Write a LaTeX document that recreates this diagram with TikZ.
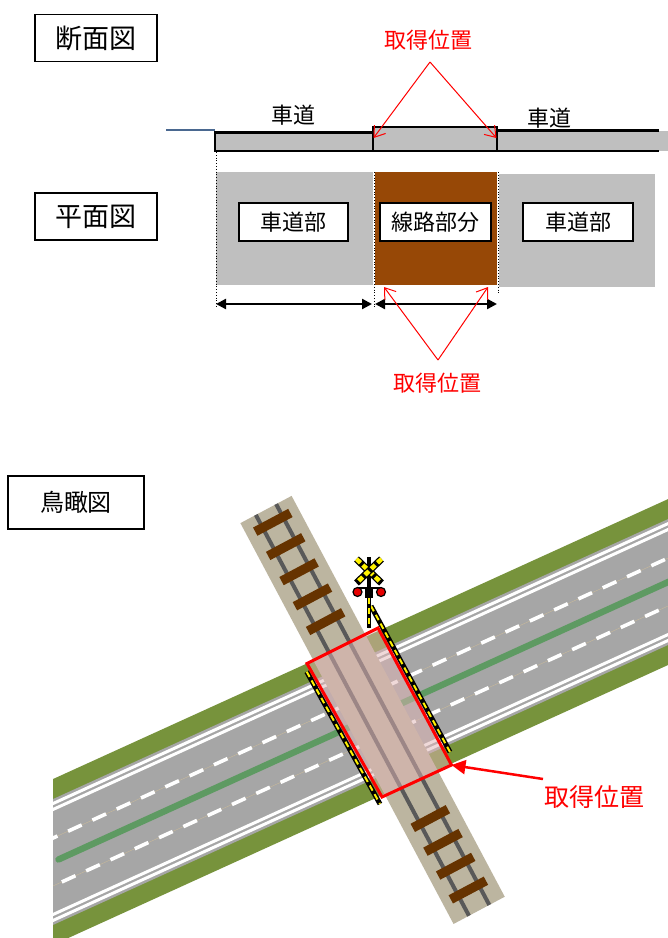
\documentclass[tikz,border=0pt]{standalone}
\usepackage{fontspec}
\newfontfamily\jpfont{Noto Sans CJK JP}
\usetikzlibrary{arrows.meta}

\definecolor{roadgreen}{HTML}{77933C}
\definecolor{asphalt}{HTML}{A6A6A6}
\definecolor{mediangreen}{HTML}{5E9A62}
\definecolor{ballast}{HTML}{BCB5A0}
\definecolor{railgray}{HTML}{595959}
\definecolor{sleeperbrown}{HTML}{663300}
\definecolor{plangray}{HTML}{BFBFBF}
\definecolor{trackbrown}{HTML}{974806}
\definecolor{crosspink}{RGB}{224,180,180}
\definecolor{edgeblue}{HTML}{4A6890}
\definecolor{lanetan}{HTML}{C8B99A}
\definecolor{signalred}{HTML}{E60000}

\tikzset{
  jp/.style={font=\jpfont\fontsize{#1}{#1}\selectfont},
  titlebox/.style={draw=black, line width=1.5pt, fill=white, inner sep=0pt,
    minimum width=122pt, minimum height=47pt, jp=27},
  partbox/.style={draw=black, line width=1.8pt, fill=white, inner sep=0pt,
    minimum width=109pt, minimum height=38pt, jp=22},
  plainlabel/.style={inner sep=0pt, jp=22},
  redlabel/.style={inner sep=0pt, text=red, jp=22},
  pointer/.style={red, line width=1pt, -{Straight Barb[length=10pt,width=14pt]}},
  dimline/.style={line width=2.3pt, {Triangle[length=10pt,width=10pt]}-{Triangle[length=10pt,width=10pt]}},
  guide/.style={black, line width=0.8pt, dotted},
  outline/.style={line width=2.6pt, line cap=rect},
  barrier/.style={draw=black, line width=5pt,
    postaction={draw=yellow, line width=2pt, dash pattern=on 6pt off 4pt}},
  crossarm/.style={draw=black, line width=7pt,
    postaction={draw=yellow, line width=4.5pt, dash pattern=on 5.5pt off 3.2pt}},
}

\begin{document}
\begin{tikzpicture}[x=1pt, y=-1pt]
\useasboundingbox (0,0) rectangle (668,938);
\fill[white] (0,0) rectangle (668,938);

% ===== cross-section =====
\node[titlebox] (secTitle) at (96,38) {断面図};

\fill[plangray] (215,132.5) rectangle (373,151);
\fill[plangray] (373,127) rectangle (497,151);
\fill[plangray] (497,130.5) rectangle (668,151);
\draw[outline] (373,132.5) -- (215,132.5) -- (215,151) -- (373,151);
\draw[outline] (373,127) rectangle (497,151);
\draw[outline] (497,130.5) -- (658,130.5) (497,151) -- (658,151);
\draw[edgeblue, line width=1.2pt] (166,130) -- (215,130);

\node[plainlabel] (secRoadL) at (293,115) {車道};
\node[plainlabel] (secRoadR) at (549,118) {車道};

\node[redlabel] (getTop) at (428,40) {取得位置};
\coordinate (apexTop) at (430,62);
\coordinate (tipTopL) at (373.5,138);
\coordinate (tipTopR) at (496.5,138);
\draw[pointer] (apexTop) -- (tipTopL);
\draw[pointer] (apexTop) -- (tipTopR);

% ===== plan =====
\node[titlebox] (planTitle) at (96,216.5) {平面図};

\fill[plangray] (216,172) rectangle (373,284.5);
\fill[trackbrown] (374.5,172) rectangle (497,284.5);
\fill[plangray] (498.5,174) rectangle (655,287);
\draw[guide] (216,152) -- (216,308);
\draw[guide] (374.5,172) -- (374.5,308);
\draw[guide] (498,172) -- (498,294);

\node[partbox] (roadL) at (293.5,222) {車道部};
\node[partbox, minimum width=111pt] (trackPart) at (435.5,222) {線路部分};
\node[partbox, minimum width=110pt] (roadR) at (578,222) {車道部};

\coordinate (dimA) at (216,304);
\coordinate (dimB) at (372,304);
\coordinate (dimC) at (375,304);
\coordinate (dimD) at (497,304);
\draw[dimline] (dimA) -- (dimB);
\draw[dimline] (dimC) -- (dimD);

\node[redlabel] (getMid) at (437,383) {取得位置};
\coordinate (apexMid) at (438,360);
\coordinate (tipMidL) at (384,287);
\coordinate (tipMidR) at (488,287);
\draw[pointer] (apexMid) -- (tipMidL);
\draw[pointer] (apexMid) -- (tipMidR);

% ===== bird's-eye view =====
\node[titlebox, minimum width=136pt, minimum height=53pt, jp=24] (eyeTitle) at (76,502.5) {鳥瞰図};

% road (frame: a along the road, b across it)
\begin{scope}
  \clip (53,0) rectangle (668,938);
  \begin{scope}[shift={(53,862)}]
  \begin{scope}[x={(0.9102pt,0.4143pt)}, y={(0.4143pt,-0.9102pt)}]
    \fill[roadgreen] (-60,-75.5) -- (760,-75.5) -- (760,75.5) -- (-60,75.5) -- cycle;
    \fill[asphalt] (-60,-57.3) -- (760,-57.3) -- (760,57.3) -- (-60,57.3) -- cycle;
    \foreach \b in {-53.2,-47.8,47.8,53.2}
      \draw[white, line width=3pt] (-60,\b) -- (760,\b);
    \foreach \b in {-21.8,21.8} {
      \draw[lanetan, line width=0.4pt] (-60,\b) -- (760,\b);
      \draw[white, line width=3.6pt, dash pattern=on 15pt off 11.7pt] (-53.6,\b) -- (760,\b);
    }
    \draw[mediangreen, line width=6.4pt, line cap=round] (6,0) -- (760,0);
  \end{scope}
  \end{scope}
\end{scope}

% railway (frame: s across the track, t along it)
\begin{scope}[shift={(266,509.5)}]
\begin{scope}[x={(0.8829pt,0.4695pt)}, y={(0.4695pt,-0.8829pt)}]
  \fill[ballast] (-29,0) -- (29,0) -- (29,454) -- (-29,454) -- cycle;
  \foreach \s in {-11.5,11.5}
    \draw[railgray, line width=4pt] (\s,0) -- (\s,454);
  \foreach \t in {14.5,42,70.5,99,127,350,377,404,431}
    \fill[sleeperbrown] (-19.9,\t-4.65) -- (19.9,\t-4.65) -- (19.9,\t+4.65) -- (-19.9,\t+4.65) -- cycle;
\end{scope}
\end{scope}

% level crossing area
\coordinate (boxT) at (378,628);
\coordinate (boxL) at (307,663.5);
\coordinate (boxB) at (382,797);
\coordinate (boxR) at (451.5,765);
\fill[crosspink, fill opacity=0.5] (boxT) -- (boxR) -- (boxB) -- (boxL) -- cycle;

% barriers and signal pole
\coordinate (barLa) at (306.7,671.7);
\coordinate (barLb) at (380,804);
\coordinate (barRa) at (371,606);
\coordinate (barRb) at (450,752);
\coordinate (poleTop) at (369,598);
\coordinate (poleFoot) at (369,628);
\draw[barrier] (barLa) -- (barLb);
\draw[barrier] (barRa) -- (barRb);
\draw[barrier, line width=4pt] (poleTop) -- (poleFoot);

\draw[red, line width=3pt, line join=miter] (boxT) -- (boxR) -- (boxB) -- (boxL) -- cycle;

% crossing signal
\coordinate (mastTop) at (369,557);
\draw[black, line width=3.5pt] (mastTop) -- (poleTop);
\coordinate (armA1) at (356.5,559);
\coordinate (armA2) at (381.5,583);
\coordinate (armB1) at (381.5,559);
\coordinate (armB2) at (356.5,583);
\draw[crossarm] (armA1) -- (armA2);
\draw[crossarm] (armB1) -- (armB2);
\coordinate (lampBarL) at (358,588);
\coordinate (lampBarR) at (380,588);
\draw[black, line width=2.7pt] (lampBarL) -- (lampBarR);
\fill[black] (365,586.5) rectangle (373,598.3);
\node[circle, draw=black, line width=1.2pt, fill=signalred, minimum size=9pt, inner sep=0pt] (lampL) at (357.5,592) {};
\node[circle, draw=black, line width=1.2pt, fill=signalred, minimum size=9pt, inner sep=0pt] (lampR) at (381,592) {};

% position label
\node[redlabel, jp=25] (getEye) at (594,797) {取得位置};
\coordinate (arrowTail) at (543,779);
\draw[red, line width=2.5pt, -{Triangle[length=14pt,width=14pt]}] (arrowTail) -- (boxR);

\end{tikzpicture}
\end{document}
